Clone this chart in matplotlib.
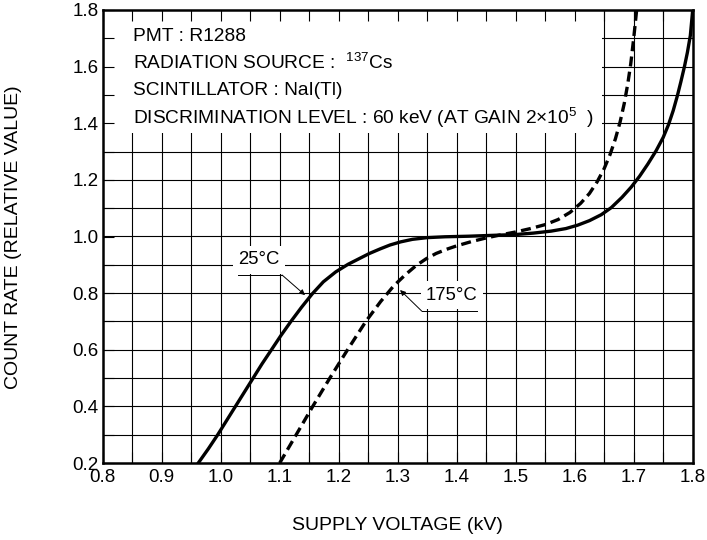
"""
Count rate vs supply voltage plateau curves (R1288, 25 and 175 degC).
"""

import numpy as np
import matplotlib
matplotlib.use("Agg")
import matplotlib.pyplot as plt
from matplotlib.patches import Rectangle

plt.rcParams['font.family'] = ['Liberation Sans', 'DejaVu Sans']
plt.rcParams['mathtext.default'] = 'regular'

# 25 degC curve (solid)
volt_25 = [0.962, 0.979, 0.995, 1.010, 1.025, 1.040, 1.055, 1.070, 1.086,
           1.102, 1.119, 1.137, 1.155, 1.174, 1.195, 1.216, 1.234, 1.252,
           1.270, 1.287, 1.305, 1.325, 1.350, 1.380, 1.420, 1.460, 1.500,
           1.530, 1.560, 1.585, 1.605, 1.625, 1.645, 1.662, 1.680, 1.696,
           1.710, 1.724, 1.738, 1.750, 1.759, 1.767, 1.774, 1.780, 1.786,
           1.791, 1.796, 1.800]
rate_25 = [0.200, 0.250, 0.300, 0.350, 0.400, 0.450, 0.500, 0.550, 0.600,
           0.650, 0.700, 0.750, 0.797, 0.840, 0.875, 0.902, 0.921, 0.940,
           0.956, 0.970, 0.981, 0.990, 0.996, 0.999, 1.001, 1.004, 1.007,
           1.012, 1.019, 1.028, 1.040, 1.056, 1.077, 1.102, 1.138, 1.175,
           1.213, 1.256, 1.303, 1.350, 1.395, 1.445, 1.497, 1.547, 1.600,
           1.650, 1.710, 1.800]

# 175 degC curve (dashed)
volt_175 = [1.100, 1.128, 1.156, 1.185, 1.215, 1.246, 1.271, 1.293, 1.313,
            1.331, 1.348, 1.365, 1.383, 1.400, 1.425, 1.450, 1.475, 1.500,
            1.525, 1.550, 1.572, 1.592, 1.610, 1.625, 1.638, 1.650, 1.660,
            1.669, 1.677, 1.684, 1.690, 1.695, 1.700, 1.705]
rate_175 = [0.200, 0.300, 0.400, 0.500, 0.600, 0.700, 0.770, 0.825, 0.865,
            0.897, 0.921, 0.940, 0.955, 0.967, 0.982, 0.995, 1.006, 1.016,
            1.028, 1.042, 1.060, 1.085, 1.117, 1.152, 1.193, 1.240, 1.290,
            1.345, 1.405, 1.470, 1.540, 1.610, 1.700, 1.800]

x_ticks = [0.8, 0.9, 1.0, 1.1, 1.2, 1.3, 1.4, 1.5, 1.6, 1.7, 1.8]
y_ticks = [0.2, 0.4, 0.6, 0.8, 1.0, 1.2, 1.4, 1.6, 1.8]

info_lines = [
    'PMT : R1288',
    'RADIATION SOURCE :  $^{137}$Cs',
    'SCINTILLATOR : NaI(Tl)',
    'DISCRIMINATION LEVEL : 60 keV (AT GAIN 2\u00d710$^{5}$  )',
]

fig = plt.figure(figsize=(7.07, 5.40), dpi=100)
ax = fig.add_axes([102.7 / 707, 1 - 463 / 540, 590 / 707, 453 / 540])

ax.set_xlim(0.8, 1.8)
ax.set_ylim(0.2, 1.8)

# grid: every 0.05 kV, every 0.1 count rate
ax.vlines(np.arange(0.85, 1.8, 0.05), 0.2, 1.8, color='black', lw=0.8, zorder=1)
ax.hlines(np.arange(0.3, 1.8, 0.1), 0.8, 1.8, color='black', lw=0.8, zorder=1)

# white panel for the info text
ax.add_patch(Rectangle((0.8, 1.365), 0.846, 0.435, facecolor='white',
                       edgecolor='none', zorder=1.5))

ax.set_xticks(x_ticks)
ax.set_xticks(np.arange(0.85, 1.8, 0.1), minor=True)
ax.set_yticks(y_ticks)
ax.set_yticks(np.arange(0.3, 1.8, 0.2), minor=True)
ax.set_xticklabels([f'{v:.1f}' for v in x_ticks])
ax.set_yticklabels([f'{v:.1f}' for v in y_ticks])
ax.tick_params(which='both', direction='in', length=8, width=0.8,
               top=True, right=False, labelsize=13.5, colors='black')
ax.tick_params(axis='x', pad=4)
ax.tick_params(axis='y', pad=3)
for sp in ax.spines.values():
    sp.set_linewidth(1.8)

ax.plot(volt_25, rate_25, color='black', lw=2.4, solid_joinstyle='round', zorder=3)
ax.plot(volt_175, rate_175, color='black', lw=2.4, dashes=(3.0, 1.6), zorder=3)

for i, line in enumerate(info_lines):
    ax.text(0.852, 1.708 - i * 0.096, line, fontsize=13.8, va='center',
            ha='left', zorder=4)

# curve labels with underline and leader arrow
def curve_label(text, tx, ty, ux0, ux1, uy, px, py, lead_from):
    ax.text(tx, ty, text, fontsize=13.3, ha='center', va='center', zorder=4,
            bbox=dict(facecolor='white', edgecolor='none', pad=4))
    ax.plot([ux0, ux1], [uy, uy], color='black', lw=0.7, zorder=4)
    ax.annotate('', xy=(px, py), xytext=(lead_from, uy), zorder=4,
                arrowprops=dict(arrowstyle='-|>', color='black', lw=0.7,
                                mutation_scale=8, shrinkA=0, shrinkB=0))

curve_label('25\u00b0C', 1.065, 0.917, 1.029, 1.104, 0.864, 1.143, 0.793, 1.104)
curve_label('175\u00b0C', 1.392, 0.793, 1.341, 1.434, 0.736, 1.304, 0.811, 1.341)

fig.text(397.7 / 707, 1 - 525 / 540, 'SUPPLY VOLTAGE (kV)', fontsize=14,
         ha='center', va='center')
fig.text(14 / 707, 1 - 237 / 540, 'COUNT RATE (RELATIVE VALUE)', fontsize=14,
         ha='center', va='center', rotation=90)

fig.savefig('out.png', dpi=100)
plt.close(fig)
